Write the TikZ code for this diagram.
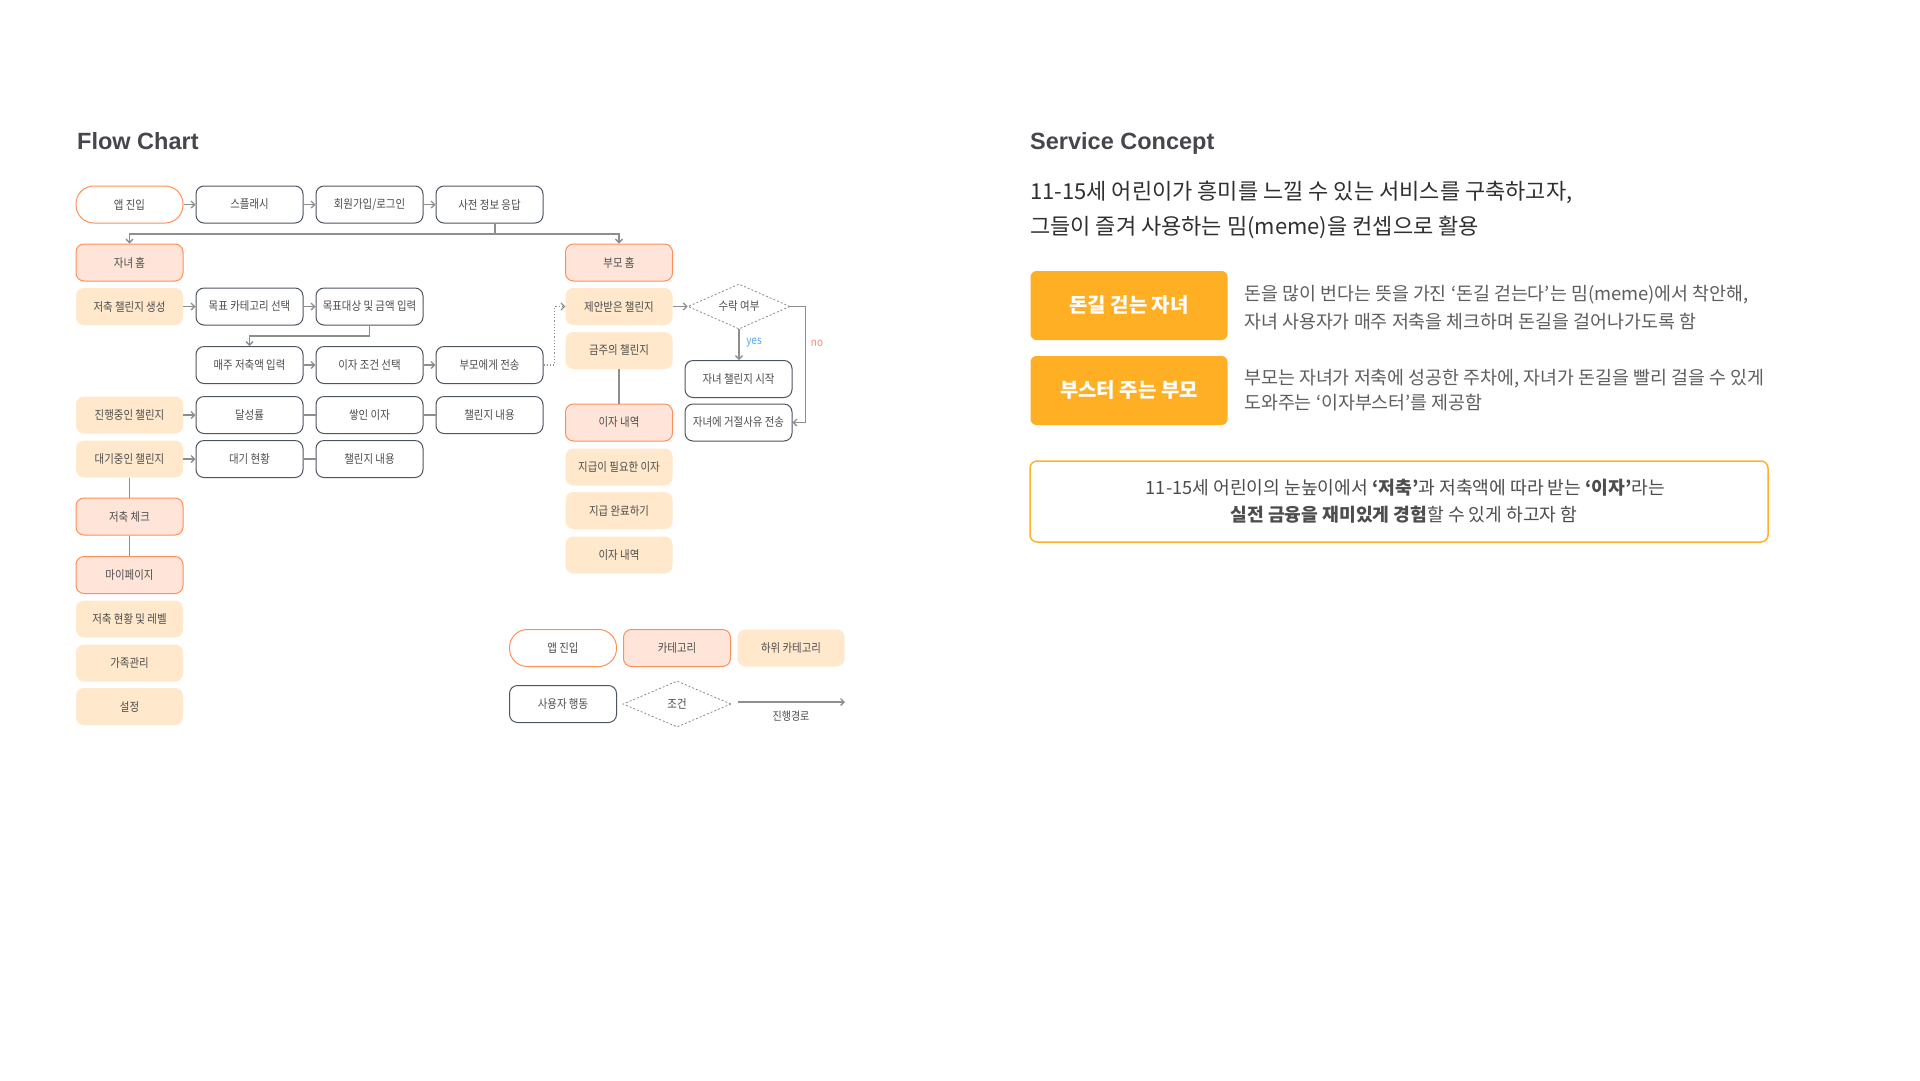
\documentclass[tikz,border=0pt]{standalone}
\usepackage{fontspec}
\setmainfont{Noto Sans CJK KR}
\newfontfamily\krL[FakeStretch=0.87]{Noto Sans CJK KR}
\newfontfamily\krR{Noto Sans CJK KR}
\newfontfamily\ttlf{Liberation Sans}
\usetikzlibrary{shapes.geometric,arrows.meta}
\definecolor{orl}{HTML}{FF8F5A}
\definecolor{peach}{HTML}{FFE5D9}
\definecolor{tan}{HTML}{FFE8CC}
\definecolor{actl}{HTML}{4E5562}
\definecolor{conncol}{HTML}{8E8E8E}
\definecolor{decl}{HTML}{8A8A8A}
\definecolor{txt}{HTML}{4D4D4D}
\definecolor{ttl}{HTML}{45474D}
\definecolor{conor}{HTML}{FFAF24}
\definecolor{conbor}{HTML}{FFB12E}
\definecolor{maintxt}{HTML}{303030}
\definecolor{desctxt}{HTML}{5E5E5E}
\definecolor{yescol}{HTML}{4DA9F5}
\definecolor{nocol}{HTML}{FF8A78}
\tikzset{
  base/.style={minimum width=107pt, minimum height=37pt, inner sep=0pt, align=center,
    font=\krL\fontsize{12}{14}\selectfont, text=txt},
  startbox/.style={base, draw=orl, line width=1pt, fill=white, rounded corners=18pt},
  catbox/.style={base, draw=orl, line width=1pt, fill=peach, rounded corners=8pt},
  subbox/.style={base, fill=tan, rounded corners=8pt},
  actbox/.style={base, draw=actl, line width=1pt, fill=white, rounded corners=8pt},
  decbox/.style={diamond, draw=decl, dash pattern=on 2pt off 2pt, line width=0.8pt,
    minimum width=102pt, minimum height=45pt, inner sep=0pt, aspect=2.2,
    font=\krL\fontsize{12}{14}\selectfont, text=txt},
  conn/.style={draw=conncol, line width=1.3pt},
  arr/.style={conn, -{Straight Barb[length=3.5pt,width=7pt]}},
  dotarr/.style={draw=conncol, line width=1.2pt, dotted, -{Straight Barb[length=3.5pt,width=7pt]}},
  lbl/.style={inner sep=0pt, font=\krL\fontsize{11.5}{13}\selectfont},
  ttlstyle/.style={anchor=base west, inner sep=0pt, text=ttl, font=\ttlf\bfseries\fontsize{23.5}{28}\selectfont},
  conbox/.style={fill=conor, rounded corners=6pt, minimum width=197pt, minimum height=69pt,
    inner sep=0pt, text=white, font=\krR\bfseries\fontsize{20}{24}\selectfont},
  maintext/.style={anchor=west, inner sep=0pt, text=maintxt, font=\krR\fontsize{22}{26}\selectfont},
  desc/.style={anchor=west, inner sep=0pt, text=desctxt, font=\krR\fontsize{18.4}{22}\selectfont},
  btext/.style={inner sep=0pt, text=txt, font=\krR\fontsize{18.2}{22}\selectfont},
}
\begin{document}
\begin{tikzpicture}[x=1pt,y=-1pt]
\useasboundingbox[fill=white] (0,0) rectangle (1920,1080);

% titles
\node[ttlstyle] (t1) at (77,149) {Flow Chart};
\node[ttlstyle] (t2) at (1030,149) {Service Concept};

% flow chart nodes
\node[startbox] (a1) at (129.5,204.5) {앱 진입};
\node[actbox] (a2) at (249.5,204.5) {스플래시};
\node[actbox] (a3) at (369.5,204.5) {회원가입/로그인};
\node[actbox] (a4) at (489.5,204.5) {사전 정보 응답};
\node[catbox] (khome) at (129.5,262.5) {자녀 홈};
\node[catbox] (phome) at (619,262.5) {부모 홈};
\node[subbox] (kmake) at (129.5,306.5) {저축 챌린지 생성};
\node[actbox] (gcat) at (249.5,306.5) {목표 카테고리 선택};
\node[actbox] (gamt) at (369.5,306.5) {목표대상 및 금액 입력};
\node[actbox] (weekly) at (249.5,365) {매주 저축액 입력};
\node[actbox] (icond) at (369.5,365) {이자 조건 선택};
\node[actbox] (send) at (489.5,365) {부모에게 전송};
\node[subbox] (prog) at (129.5,415) {진행중인 챌린지};
\node[actbox] (rate) at (249.5,415) {달성률};
\node[actbox] (accum) at (369.5,415) {쌓인 이자};
\node[actbox] (pcont) at (489.5,415) {챌린지 내용};
\node[subbox] (wait) at (129.5,459) {대기중인 챌린지};
\node[actbox] (wstat) at (249.5,459) {대기 현황};
\node[actbox] (wcont) at (369.5,459) {챌린지 내용};
\node[catbox] (check) at (129.5,516.5) {저축 체크};
\node[catbox] (mypage) at (129.5,575) {마이페이지};
\node[subbox] (lvl) at (129.5,619) {저축 현황 및 레벨};
\node[subbox] (fam) at (129.5,663) {가족관리};
\node[subbox] (setg) at (129.5,706.5) {설정};
\node[subbox] (propc) at (619,306.5) {제안받은 챌린지};
\node[subbox] (weekc) at (619,350.5) {금주의 챌린지};
\node[catbox] (ihist) at (619,422.5) {이자 내역};
\node[subbox] (need) at (619,467) {지급이 필요한 이자};
\node[subbox] (done) at (619,510.5) {지급 완료하기};
\node[subbox] (ihist2) at (619,555) {이자 내역};
\node[decbox] (accept) at (739,306.5) {수락 여부};
\node[actbox] (kstart) at (738.5,379) {자녀 챌린지 시작};
\node[actbox] (reject) at (738.5,422.5) {자녀에 거절사유 전송};

% connectors
\draw[arr] (a1) -- (a2);
\draw[arr] (a2) -- (a3);
\draw[arr] (a3) -- (a4);
\coordinate (j) at (495,234);
\draw[conn] (a4.south -| j) -- (j);
\draw[arr] (j) -| (khome.north);
\draw[arr] (j) -| (phome.north);
\draw[arr] (kmake) -- (gcat);
\draw[arr] (gcat) -- (gamt);
\coordinate (k) at (370,336);
\draw[arr] (gamt.south) -- (gamt.south |- k) -| (weekly.north);
\draw[arr] (weekly) -- (icond);
\draw[arr] (icond) -- (send);
\draw[dotarr] (send.east) -- ++(11,0) |- (propc.west);
\draw[arr] (prog) -- (rate);
\draw[conn] (rate) -- (accum);
\draw[conn] (accum) -- (pcont);
\draw[arr] (wait) -- (wstat);
\draw[conn] (wstat) -- (wcont);
\draw[conn] (wait) -- (check);
\draw[conn] (check) -- (mypage);
\draw[conn] (weekc) -- (ihist);
\draw[arr] (propc) -- (accept);
\draw[arr] (accept.south) -- (accept.south |- kstart.north);
\draw[arr] (accept.east) -- ++(15,0) |- (reject.east);
\node[lbl, text=yescol] (yes) at (754,343) {yes};
\node[lbl, text=nocol] (no) at (817,343) {no};

% legend
\node[startbox] (l1) at (563,648) {앱 진입};
\node[catbox] (l2) at (677,648) {카테고리};
\node[subbox] (l3) at (791,648) {하위 카테고리};
\node[actbox] (l4) at (563,704) {사용자 행동};
\node[decbox, minimum width=108pt, minimum height=46pt] (l5) at (677,704) {조건};
\coordinate (la) at (738,702);
\coordinate (lb) at (845,702);
\draw[arr] (la) -- (lb);
\node[lbl, text=txt] (lt) at (791,716) {진행경로};

% service concept
\node[maintext] (m1) at (1030,192) {11-15세 어린이가 흥미를 느낄 수 있는 서비스를 구축하고자,};
\node[maintext] (m2) at (1030,227) {그들이 즐겨 사용하는 밈(meme)을 컨셉으로 활용};
\node[conbox] (c1) at (1129,305.5) {돈길 걷는 자녀};
\node[conbox] (c2) at (1129,390.5) {부스터 주는 부모};
\node[desc] (d1) at (1244,295) {돈을 많이 번다는 뜻을 가진 ‘돈길 걷는다’는 밈(meme)에서 착안해,};
\node[desc] (d2) at (1244,322) {자녀 사용자가 매주 저축을 체크하며 돈길을 걸어나가도록 함};
\node[desc] (d3) at (1244,379) {부모는 자녀가 저축에 성공한 주차에, 자녀가 돈길을 빨리 걸을 수 있게};
\node[desc] (d4) at (1244,403) {도와주는 ‘이자부스터’를 제공함};
\node[draw=conbor, line width=1.5pt, rounded corners=7pt, minimum width=738pt, minimum height=81pt, inner sep=0pt] (bb) at (1399,501.5) {};
\node[btext] (b1) at (1405.5,487.5) {11-15세 어린이의 눈높이에서 \textbf{‘저축’}과 저축액에 따라 받는 \textbf{‘이자’}라는};
\node[btext] (b2) at (1404,515) {\textbf{실전 금융을 재미있게 경험}할 수 있게 하고자 함};
\end{tikzpicture}
\end{document}
